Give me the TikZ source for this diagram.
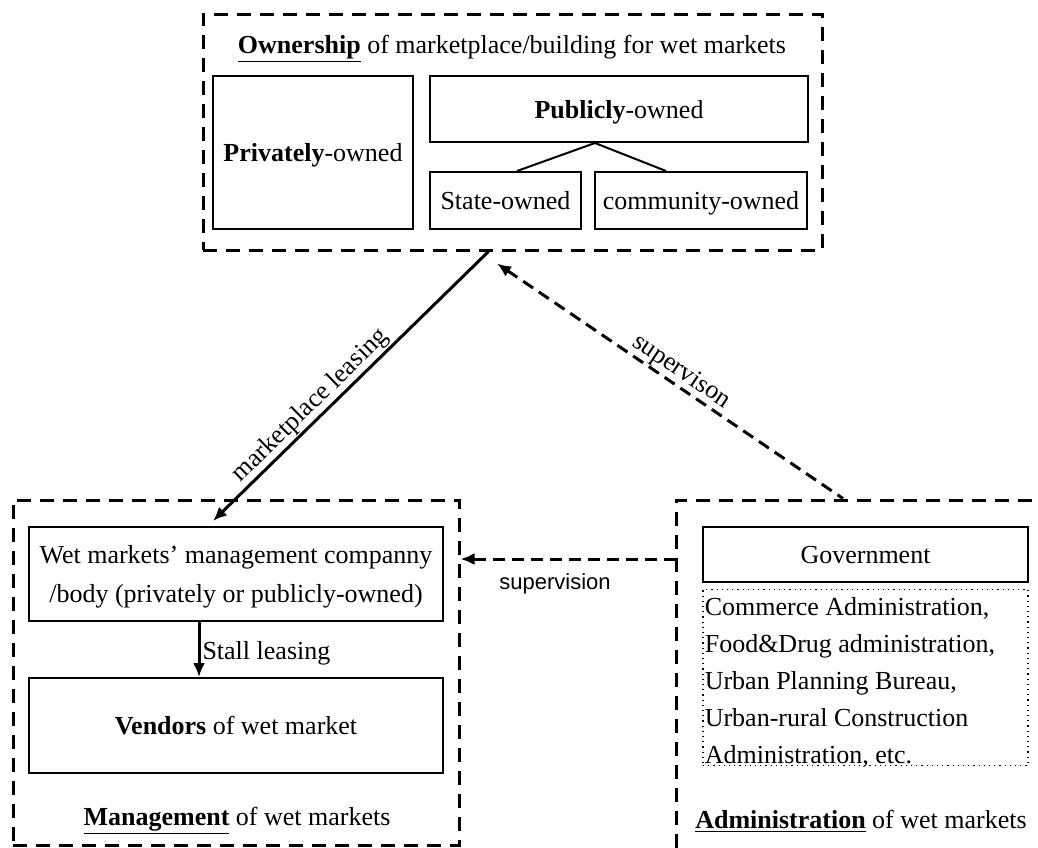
\documentclass[tikz,border=0pt]{standalone}
\usepackage{fontspec}
\setmainfont{Liberation Serif}
\newfontfamily\arialfont{Liberation Sans}
\usetikzlibrary{arrows.meta}

\tikzset{
  box/.style={draw, line width=1pt, inner sep=2pt, align=center, text depth=0pt, font=\fontsize{13}{19.5}\selectfont},
  group/.style={draw, line width=1.5pt, dash pattern=on 7pt off 4.5pt},
  lbl/.style={font=\fontsize{13}{15}\selectfont},
  link/.style={line width=1.5pt},
  dlink/.style={line width=1.5pt, dash pattern=on 6pt off 3.5pt},
  tip/.style={-{Latex[length=7pt,width=6pt]}},
  rtip/.style={{Latex[length=7pt,width=6pt]}-}
}

\begin{document}
\begin{tikzpicture}[x=0.5pt,y=-0.5pt]
	\clip (0,0) rectangle (1038,847);
	
	% ownership
	\node[group, minimum width=309.5pt, minimum height=118pt] (own) at (512.5,132) {};
	\node[lbl] (ownt) at (512,49) {\underline{\textbf{Ownership}} of marketplace/building for wet markets};
	\node[box, minimum width=100pt, minimum height=76.5pt] (priv) at (313,152.5) {\textbf{Privately}-owned};
	\node[box, minimum width=189pt, minimum height=33pt] (publ) at (619,109) {\textbf{Publicly}-owned};
	\node[box, minimum width=75.5pt, minimum height=28.5pt] (state) at (505.5,200.5) {State-owned};
	\node[box, minimum width=106pt, minimum height=28.5pt] (comm) at (701,200.5) {community-owned};
	\draw[line width=1pt] ([xshift=5.75pt]state.north) -- ([xshift=-12pt]publ.south) -- ([xshift=-17.5pt]comm.north);
	
	% management
	\node[group, minimum width=223pt, minimum height=172.5pt] (mgmt) at (236,672.5) {};
	\node[box, minimum width=207pt, minimum height=47pt] (comp) at (236,574) {Wet markets’ management companny\\/body (privately or publicly-owned)};
	\node[box, minimum width=207pt, minimum height=47.5pt] (vend) at (236,725.5) {\textbf{Vendors} of wet market};
	\draw[link, tip] ([xshift=-18.5pt]comp.south) -- node[lbl, right, inner sep=1pt, yshift=-2pt] {Stall leasing} ([xshift=-18.5pt]vend.north);
	\node[lbl] (mgmtt) at (237,821) {\underline{\textbf{Management}} of wet markets};
	
	% administration
	\node[group, minimum width=192pt, minimum height=185pt] (adm) at (868,685) {};
	\node[box, minimum width=162.5pt, minimum height=27.5pt] (gov) at (865.5,554.5) {Government};
	\node[draw, dotted, line width=0.6pt, minimum width=162.5pt, minimum height=88pt] (dept) at (865.5,677.5) {};
	\node[anchor=north west, inner sep=0pt, align=left, font=\fontsize{13}{18.5}\selectfont] (deptt) at ([xshift=1pt,yshift=-4pt]dept.north west) {Commerce Administration,\\Food\&Drug administration,\\Urban Planning Bureau,\\Urban-rural Construction\\Administration, etc.};
	\node[lbl] (admt) at (861,821) {\underline{\textbf{Administration}} of wet markets};
	
	% relations
	\coordinate (supv) at (676,559);
	\draw[dlink, tip] (supv) -- (supv -| mgmt.east);
	\node[font=\arialfont\fontsize{11}{13}\selectfont] (supvt) at (555,584) {supervision};
	\draw[link, rtip] ([xshift=-11.5pt,yshift=2.5pt]comp.north) -- node[lbl, sloped, anchor=south, inner sep=0.5pt, pos=0.39] {marketplace leasing} ([xshift=-12pt]own.south);
	\draw[dlink, rtip] ([xshift=-7.75pt,yshift=-6pt]own.south) -- node[lbl, sloped, anchor=south, inner sep=0.5pt, pos=0.51] {supervison} ([xshift=-12.5pt]adm.north);
\end{tikzpicture}
\end{document}
